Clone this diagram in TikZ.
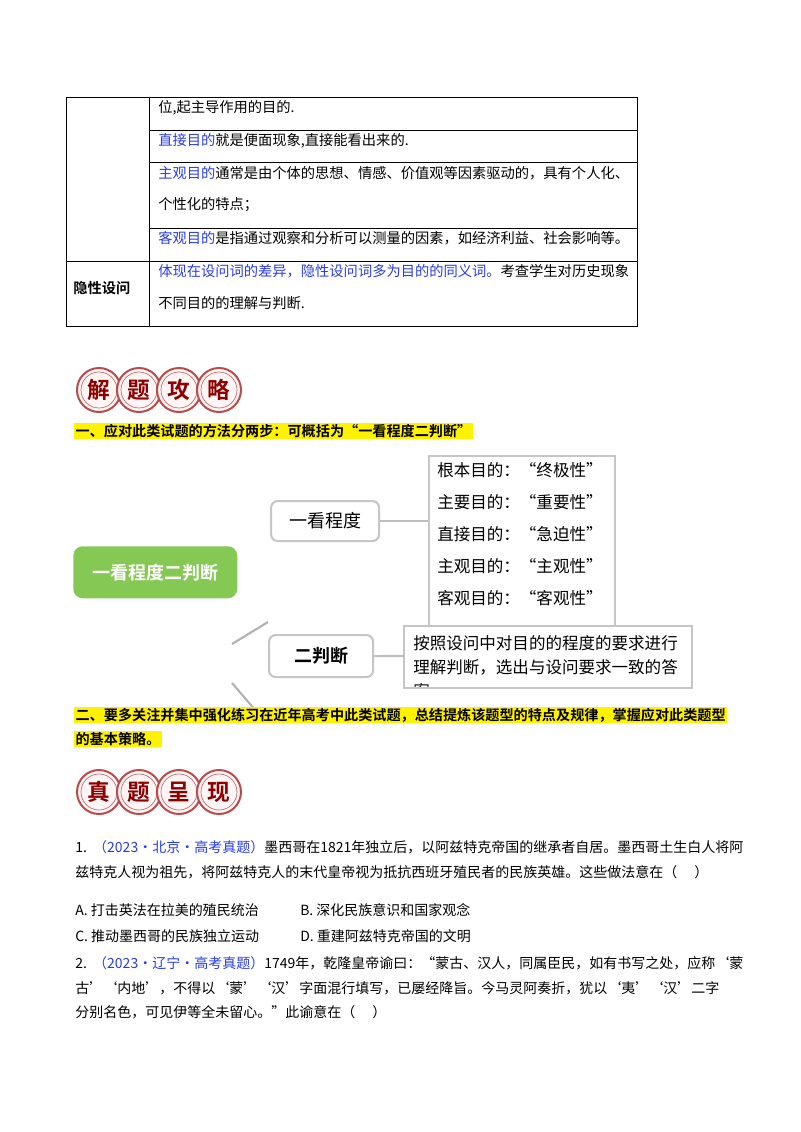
\documentclass[tikz,border=0pt]{standalone}
\usepackage{fontspec}
\setmainfont{Noto Sans CJK SC}[BoldFont={Noto Sans CJK SC Bold}]
\begin{document}
\begin{tikzpicture}[x=0.75pt,y=-0.75pt,
  tl/.style={anchor=west,inner sep=0,font=\fontsize{10.7}{12}\selectfont},
  ql/.style={anchor=west,inner sep=0,font=\fontsize{10.5}{12}\selectfont},
  mm/.style={draw=gray!45,line width=1.6pt,rounded corners=5pt},
  mt/.style={anchor=west,inner sep=0,font=\fontsize{12.4}{13}\selectfont},
  ring/.style={circle,minimum size=33pt,draw=red!60!black!70,line width=1.5pt,fill=red!4,inner sep=0},
  hl/.style={anchor=west,inner sep=1pt,fill=yellow,font=\fontsize{10.6}{12}\selectfont\bfseries}]
\definecolor{qblue}{RGB}{40,60,230}
\definecolor{mgreen}{RGB}{134,200,84}
\useasboundingbox (0,0) rectangle (800,1132);
% table
\draw[line width=0.6pt] (66,97) rectangle (637,326);
\draw[line width=0.6pt] (149,97) -- (149,326);
\draw[line width=0.6pt] (66,261) -- (637,261);
\foreach \yy in {130,162,228} \draw[line width=0.6pt] (149,\yy) -- (637,\yy);
\node[tl] (t1) at (158,108) {位,起主导作用的目的.};
\node[tl] (t2) at (158,141) {\textcolor{qblue}{直接目的}就是便面现象,直接能看出来的.};
\node[tl] (t3) at (158,173) {\textcolor{qblue}{主观目的}通常是由个体的思想、情感、价值观等因素驱动的，具有个人化、};
\node[tl] (t3b) at (158,205) {个性化的特点；};
\node[tl] (t4) at (158,238) {\textcolor{qblue}{客观目的}是指通过观察和分析可以测量的因素，如经济利益、社会影响等。};
\node[tl] (t5) at (158,271) {\textcolor{qblue}{体现在设问词的差异，隐性设问词多为目的的同义词。}考查学生对历史现象};
\node[tl] (t5b) at (158,303) {不同目的的理解与判断.};
\node[tl,font=\fontsize{10.7}{12}\selectfont\bfseries] (t6) at (73,288) {隐性设问};
% badge 1
\foreach \c/\i in {解/0,题/1,攻/2,略/3}{
  \node[ring] (ba\i) at (99+40*\i,390) {};
  \draw[red!60!black!60,line width=0.5pt] (ba\i) circle (13.5pt);
  \node[inner sep=0,font=\fontsize{17}{17}\selectfont\bfseries,text=red!55!black] at (ba\i) {\c};
}
\node[hl] (h1) at (74,431) {一、应对此类试题的方法分两步：可概括为“一看程度二判断”};
% mind map
\node[draw=gray!45,line width=1.6pt,minimum width=139.5pt,minimum height=133pt,anchor=north west,inner sep=0] (rb) at (428,455) {};
\node[mt] (r1) at (437,470) {根本目的：“终极性”};
\node[mt] (r2) at (437,502) {主要目的：“重要性”};
\node[mt] (r3) at (437,534) {直接目的：“急迫性”};
\node[mt] (r4) at (437,566) {主观目的：“主观性”};
\node[mt] (r5) at (437,598) {客观目的：“客观性”};
\node[mm,minimum width=81pt,minimum height=30pt,inner sep=0,font=\fontsize{13.5}{14}\selectfont,anchor=north west] (k1) at (270,500) {一看程度};
\node[fill=mgreen,rounded corners=7pt,minimum width=123pt,minimum height=39pt,anchor=north west,inner sep=0,text=white,font=\fontsize{13.5}{14}\selectfont\bfseries] (g) at (73,546) {一看程度二判断};
\node[mm,minimum width=78pt,minimum height=31.5pt,inner sep=0,font=\fontsize{13.5}{14}\selectfont\bfseries,anchor=north west] (k2) at (268,634) {二判断};
\draw[gray!50,line width=1.6pt] (k1.east) -- (k1.east -| rb.west);
\draw[gray!60,line width=1.6pt] (232,644) coordinate (d1) -- (268,622) coordinate (d2);
\draw[gray!60,line width=1.6pt] (232,683) coordinate (d3) -- (262,718) coordinate (d4);
\begin{scope}
\clip (404,626) rectangle (692,688);
\node[fill=white,minimum width=216pt,minimum height=46.5pt,anchor=north west,inner sep=0] (jb) at (404,626) {};
\node[mt] (j1) at (413,643) {按照设问中对目的的程度的要求进行};
\node[mt] (j2) at (413,667) {理解判断，选出与设问要求一致的答};
\node[mt] (j3) at (413,691) {案};
\end{scope}
\draw[gray!45,line width=1.6pt] (404,626) rectangle (692,688);
\draw[gray!50,line width=1.6pt] (k2.east) -- (404,656);
% highlight 2
\node[hl] (h2) at (74,715) {二、要多关注并集中强化练习在近年高考中此类试题，总结提炼该题型的特点及规律，掌握应对此类题型};
\node[hl] (h2b) at (74,739) {的基本策略。};
% badge 2
\foreach \c/\i in {真/0,题/1,呈/2,现/3}{
  \node[ring] (bb\i) at (99+40*\i,792) {};
  \draw[red!60!black!60,line width=0.5pt] (bb\i) circle (13.5pt);
  \node[inner sep=0,font=\fontsize{17}{17}\selectfont\bfseries,text=red!55!black] at (bb\i) {\c};
}
% questions
\node[ql] (q1) at (75,847) {1.\ \ \textcolor{qblue}{（2023·北京·高考真题）}墨西哥在1821年独立后，以阿兹特克帝国的继承者自居。墨西哥土生白人将阿};
\node[ql] (q1b) at (75,872) {兹特克人视为祖先，将阿兹特克人的末代皇帝视为抵抗西班牙殖民者的民族英雄。这些做法意在（\quad\ ）};
\node[ql] (oa) at (75,910) {A.\ 打击英法在拉美的殖民统治};
\node[ql] (ob) at (300,910) {B.\ 深化民族意识和国家观念};
\node[ql] (oc) at (75,936) {C.\ 推动墨西哥的民族独立运动};
\node[ql] (od) at (300,936) {D.\ 重建阿兹特克帝国的文明};
\node[ql] (q2) at (75,963) {2.\ \ \textcolor{qblue}{（2023·辽宁·高考真题）}1749年，乾隆皇帝谕曰：“蒙古、汉人，同属臣民，如有书写之处，应称‘蒙};
\node[ql] (q2b) at (75,988) {古’‘内地’，不得以‘蒙’‘汉’字面混行填写，已屡经降旨。今马灵阿奏折，犹以‘夷’‘汉’二字};
\node[ql] (q2c) at (75,1012) {分别名色，可见伊等全未留心。”此谕意在（\quad\ ）};
\end{tikzpicture}
\end{document}
